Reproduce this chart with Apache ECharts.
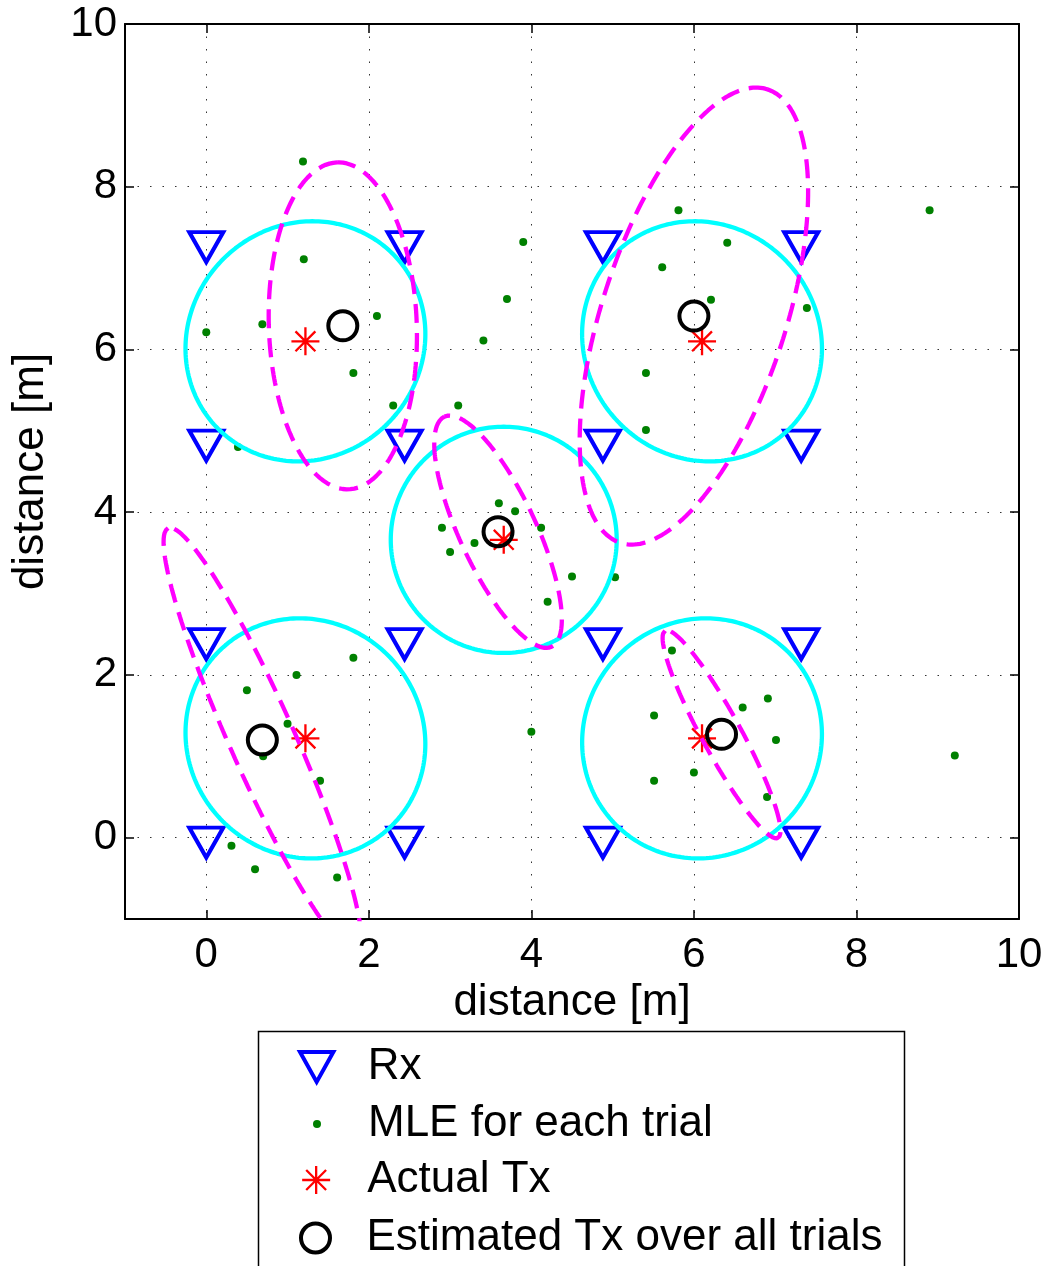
<!DOCTYPE html>
<html><head><meta charset="utf-8">
<script src="https://cdn.jsdelivr.net/npm/echarts@6/dist/echarts.min.js"></script>
<style>html,body{margin:0;padding:0;background:#fff}#c{width:1050px;height:1266px}</style>
</head><body><div id="c"></div>
<script>
// Receivers (Rx)
const rxX = [0, 2.44, 4.88, 7.32, 0, 2.44, 4.88, 7.32, 0, 2.44, 4.88, 7.32, 0, 2.44, 4.88, 7.32];
const rxY = [0, 0, 0, 0, 2.44, 2.44, 2.44, 2.44, 4.88, 4.88, 4.88, 4.88, 7.32, 7.32, 7.32, 7.32];
// MLE for each trial
const mleX = [1.19, 1.2, 0.0, 0.69, 2.1, 1.81, 2.3, 0.39, 3.1, 3.9, 3.7, 3.41, 3.6, 3.8, 2.9, 3.3, 3.0, 4.12, 4.5, 4.2, 5.03, 4.0,
              5.81, 6.41, 5.61, 6.21, 7.39, 5.41, 5.41, 8.9, 9.21, 1.81, 1.11, 0.5, 1.0, 0.7, 1.4, 0.31, 0.6, 1.61,
              5.73, 6.91, 6.6, 5.51, 7.01, 5.51, 6.0, 6.9];
const mleY = [8.31, 7.11, 6.21, 6.31, 6.41, 5.71, 5.31, 4.8, 5.31, 7.32, 6.62, 6.11, 4.11, 4.01, 3.81, 3.62, 3.51, 3.81, 3.21, 2.9, 3.2, 1.3,
              7.71, 7.31, 7.01, 6.61, 6.51, 5.71, 5.01, 7.71, 1.01, 2.21, 2.0, 1.81, 1.4, 1.0, 0.7, -0.1, -0.39, -0.49,
              2.3, 1.71, 1.6, 1.5, 1.2, 0.7, 0.8, 0.5];
// Actual Tx
const txX = [1.22, 3.66, 6.1, 1.22, 6.1];
const txY = [6.1, 3.66, 6.1, 1.22, 1.22];
// Estimated Tx over all trials
const estX = [1.68, 3.59, 6.0, 0.69, 6.34];
const estY = [6.29, 3.76, 6.41, 1.2, 1.27];
// cyan circles (around actual Tx): semi-axes [m], tilt [deg]
const circA = [1.52, 1.39, 1.52, 1.51, 1.50];
const circB = [1.43, 1.39, 1.43, 1.44, 1.45];
const circAng = [45, 0, 135, 135, 45];
// magenta dashed ellipses (around estimated Tx)
const ellA = [2.01, 1.56, 2.93, 2.85, 1.45];
const ellB = [0.91, 0.47, 1.13, 0.40, 0.24];
const ellAng = [92, 115, 72, 114, 118.6];
// axes
const axisMin = -1, axisMax = 10;
const names = ['Rx', 'MLE for each trial', 'Actual Tx', 'Estimated Tx over all trials'];

const FONT = 'Liberation Sans, Arial, Helvetica, sans-serif';
const TRI = 'path://M0,0L2,0L1,1.8Z';
const STAR = 'path://M0,-1L0,1M-1,0L1,0M-0.71,-0.71L0.71,0.71M-0.71,0.71L0.71,-0.71';

function outline(cx, cy, a, b, deg) {
  const t = deg * Math.PI / 180, pts = [];
  const N = 240;
  for (let i = 0; i <= N; i++) {
    const u = i / N * 2 * Math.PI;
    const ex = a * Math.cos(u), ey = b * Math.sin(u);
    pts.push([cx + ex * Math.cos(t) - ey * Math.sin(t), cy + ex * Math.sin(t) + ey * Math.cos(t)]);
  }
  return pts;
}

const rxStyle = { color: 'transparent', borderColor: '#0000ff', borderWidth: 4, borderJoin: 'miter', opacity: 1 };
const mleStyle = { color: '#008000', borderWidth: 0, opacity: 1 };
const txStyle = { color: 'transparent', borderColor: '#ff0000', borderWidth: 2.3, opacity: 1 };
const estStyle = { color: 'transparent', borderColor: '#000000', borderWidth: 4, opacity: 1 };

const series = [];
series.push({
  name: names[0], type: 'scatter', data: rxX.map((x, i) => [x, rxY[i]]),
  symbol: TRI, symbolSize: [34, 30], symbolOffset: [0, 5], itemStyle: rxStyle
});
series.push({
  name: names[1], type: 'scatter', data: mleX.map((x, i) => [x, mleY[i]]),
  symbol: 'circle', symbolSize: 8, itemStyle: mleStyle
});
txX.forEach((cx, i) => {
  series.push({
    name: 'circle' + i, type: 'line', data: outline(cx, txY[i], circA[i], circB[i], circAng[i]),
    showSymbol: false, symbol: 'none', lineStyle: { color: '#00ffff', width: 4.3, opacity: 1 }, silent: true
  });
});
estX.forEach((cx, i) => {
  series.push({
    name: 'ellipse' + i, type: 'line', data: outline(cx, estY[i], ellA[i], ellB[i], ellAng[i]),
    showSymbol: false, symbol: 'none', lineStyle: { color: '#ff00ff', width: 4.3, type: [19, 10], opacity: 1 }, silent: true
  });
});
series.push({
  name: names[2], type: 'scatter', data: txX.map((x, i) => [x, txY[i]]),
  symbol: STAR, symbolSize: 28, itemStyle: txStyle
});
series.push({
  name: names[3], type: 'scatter', data: estX.map((x, i) => [x, estY[i]]),
  symbol: 'circle', symbolSize: 29, itemStyle: estStyle
});

const tickStyle = { show: true, inside: true, length: 9, lineStyle: { color: '#000', width: 1.5 } };
const lineSt = { show: true, onZero: false, lineStyle: { color: '#000', width: 2 } };
const gridLine = { show: true, lineStyle: { color: '#333', width: 1, type: [1.5, 11] } };
const labelSt = { fontSize: 42, fontFamily: FONT, color: '#000' };
const nameSt = { fontSize: 44, fontFamily: FONT, color: '#000' };

const rowCenters = [1067, 1124, 1180, 1238];
const legIcons = [TRI, 'circle', STAR, 'circle'];
const legH = [30, 8, 28, 29];
const legLeft = [298, 313, 301, 299];
const legStyles = [rxStyle, mleStyle, txStyle, estStyle];
const legends = names.map((n, i) => ({
  data: [{ name: n, icon: legIcons[i] }],
  left: legLeft[i], top: rowCenters[i] - 22, padding: 0,
  itemWidth: 92, itemHeight: legH[i], selectedMode: false,
  itemStyle: legStyles[i],
  textStyle: { fontSize: 44, fontFamily: FONT, color: '#000' }
}));

const option = {
  animation: false,
  backgroundColor: '#fff',
  grid: { left: 125, right: 31, top: 24, bottom: 347, containLabel: false },
  xAxis: [
    { type: 'value', position: 'bottom', min: axisMin, max: axisMax, splitNumber: 5,
      axisLine: lineSt, axisTick: tickStyle, splitLine: gridLine,
      axisLabel: Object.assign({ margin: 15, showMinLabel: false }, labelSt),
      name: 'distance [m]', nameLocation: 'middle', nameGap: 60, nameTextStyle: nameSt },
    { type: 'value', position: 'top', min: axisMin, max: axisMax, splitNumber: 5,
      axisLine: lineSt, axisTick: tickStyle, splitLine: { show: false }, axisLabel: { show: false } }
  ],
  yAxis: [
    { type: 'value', position: 'left', min: axisMin, max: axisMax, splitNumber: 5,
      axisLine: lineSt, axisTick: tickStyle, splitLine: gridLine,
      axisLabel: Object.assign({ margin: 8, showMinLabel: false }, labelSt),
      name: 'distance [m]', nameLocation: 'middle', nameGap: 72, nameRotate: 90, nameTextStyle: nameSt },
    { type: 'value', position: 'right', min: axisMin, max: axisMax, splitNumber: 5,
      axisLine: lineSt, axisTick: tickStyle, splitLine: { show: false }, axisLabel: { show: false } }
  ],
  legend: legends,
  graphic: [{
    type: 'rect', silent: true, z: -1,
    shape: { x: 258.5, y: 1031.5, width: 646, height: 300 },
    style: { fill: 'transparent', stroke: '#000', lineWidth: 1.5 }
  }],
  series: series
};
const chart = echarts.init(document.getElementById('c'), null, { renderer: 'canvas' });
chart.setOption(option);
</script></body></html>
